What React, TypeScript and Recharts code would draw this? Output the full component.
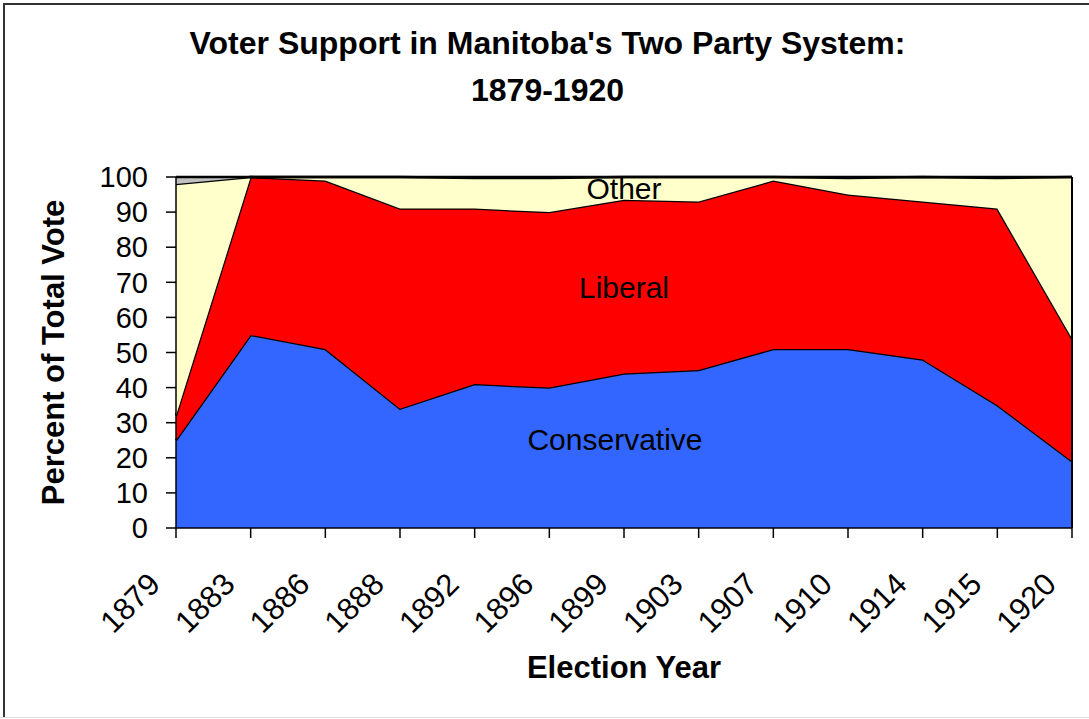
import { AreaChart, Area, XAxis, YAxis, ReferenceDot, ReferenceLine, Label } from "recharts";

const years = ["1879", "1883", "1886", "1888", "1892", "1896", "1899", "1903", "1907", "1910", "1914", "1915", "1920"];
const conservative = [25, 55, 51, 34, 41, 40, 44, 45, 51, 51, 48, 35, 19];
const liberal = [7, 45, 48, 57, 50, 50, 49.5, 48, 48, 44, 45, 56, 35];
const other = [66, 0, 1, 9, 8.7, 9.7, 6.5, 7, 1, 4.7, 7, 8.7, 46];
const unknown = [2, 0, 0, 0, 0.3, 0.3, 0, 0, 0, 0.3, 0, 0.3, 0];
const yTicks = [0, 10, 20, 30, 40, 50, 60, 70, 80, 90, 100];

const data = years.map((year, i) => ({
  year,
  conservative: conservative[i],
  liberal: liberal[i],
  other: other[i],
  unknown: unknown[i],
}));

const FONT = '"Liberation Sans", Arial, sans-serif';

function YearTick({ x, y, payload }: any) {
  const ax = x - 14;
  const ay = y + 46;
  return (
    <text
      x={ax}
      y={ay}
      transform={`rotate(-45, ${ax}, ${ay})`}
      textAnchor="end"
      fontSize={31}
      fill="#000"
    >
      {payload.value}
    </text>
  );
}

export default function App() {
  return (
    <div style={{ position: "absolute", left: 0, top: 0, width: 1089, height: 719, background: "#fff", fontFamily: FONT }}>
      {/* frame */}
      <div style={{ position: "absolute", left: 3, top: 3, width: 1100, height: 713, borderLeft: "2px solid #333", borderTop: "2px solid #333" }} />
      <div style={{ position: "absolute", left: 0, top: 717, width: 1089, height: 1, background: "#ddd" }} />
      <div
        style={{
          position: "absolute",
          left: 0,
          top: 20,
          width: 1095,
          textAlign: "center",
          fontSize: 32,
          fontWeight: "bold",
          lineHeight: "47px",
          color: "#000",
        }}
      >
        Voter Support in Manitoba's Two Party System:
        <br />
        1879-1920
      </div>
      <div style={{ position: "absolute", left: 0, top: 0 }}>
        <AreaChart width={1089} height={719} data={data} margin={{ top: 177, right: 17, left: 0, bottom: 0 }}>
          <XAxis
            dataKey="year"
            height={191}
            tickSize={10}
            tick={<YearTick />}
            interval={0}
            stroke="#000"
            strokeWidth={1.5}
          >
            <Label value="Election Year" position="insideBottom" offset={41} fontSize={31} fontWeight="bold" fill="#000" />
          </XAxis>
          <YAxis
            width={176}
            domain={[0, 100]}
            ticks={yTicks}
            interval={0}
            tickSize={10}
            tickMargin={18}
            stroke="#000"
            strokeWidth={1.5}
            tick={{ fontSize: 29, fill: "#000" }}
          >
            <Label value="Percent of Total Vote" angle={-90} position="center" dx={-35} fontSize={31} fontWeight="bold" fill="#000" />
          </YAxis>
          <Area type="linear" dataKey="conservative" stackId="1" fill="#3366FF" fillOpacity={1} stroke="#000" strokeWidth={2.5} isAnimationActive={false} />
          <Area type="linear" dataKey="liberal" stackId="1" fill="#FF0000" fillOpacity={1} stroke="#000" strokeWidth={2.5} isAnimationActive={false} />
          <Area type="linear" dataKey="other" stackId="1" fill="#FFFFCC" fillOpacity={1} stroke="#000" strokeWidth={2.5} isAnimationActive={false} />
          <Area type="linear" dataKey="unknown" stackId="1" fill="#C0C0C0" fillOpacity={1} stroke="#000" strokeWidth={2.5} isAnimationActive={false} />
          <ReferenceLine x="1920" stroke="#000" strokeWidth={2} />
          <ReferenceDot x="1899" y={96.9} r={0} stroke="none" fill="none" label={{ value: "Other", position: "center", fontSize: 30, fill: "#000" }} />
          <ReferenceDot x="1899" y={68.5} r={0} stroke="none" fill="none" label={{ value: "Liberal", position: "center", fontSize: 30, fill: "#000" }} />
          <ReferenceDot x="1899" y={25.2} r={0} stroke="none" fill="none" label={{ value: "Conservative", position: "center", fontSize: 30, fill: "#000", dx: -9 }} />
        </AreaChart>
      </div>
    </div>
  );
}
